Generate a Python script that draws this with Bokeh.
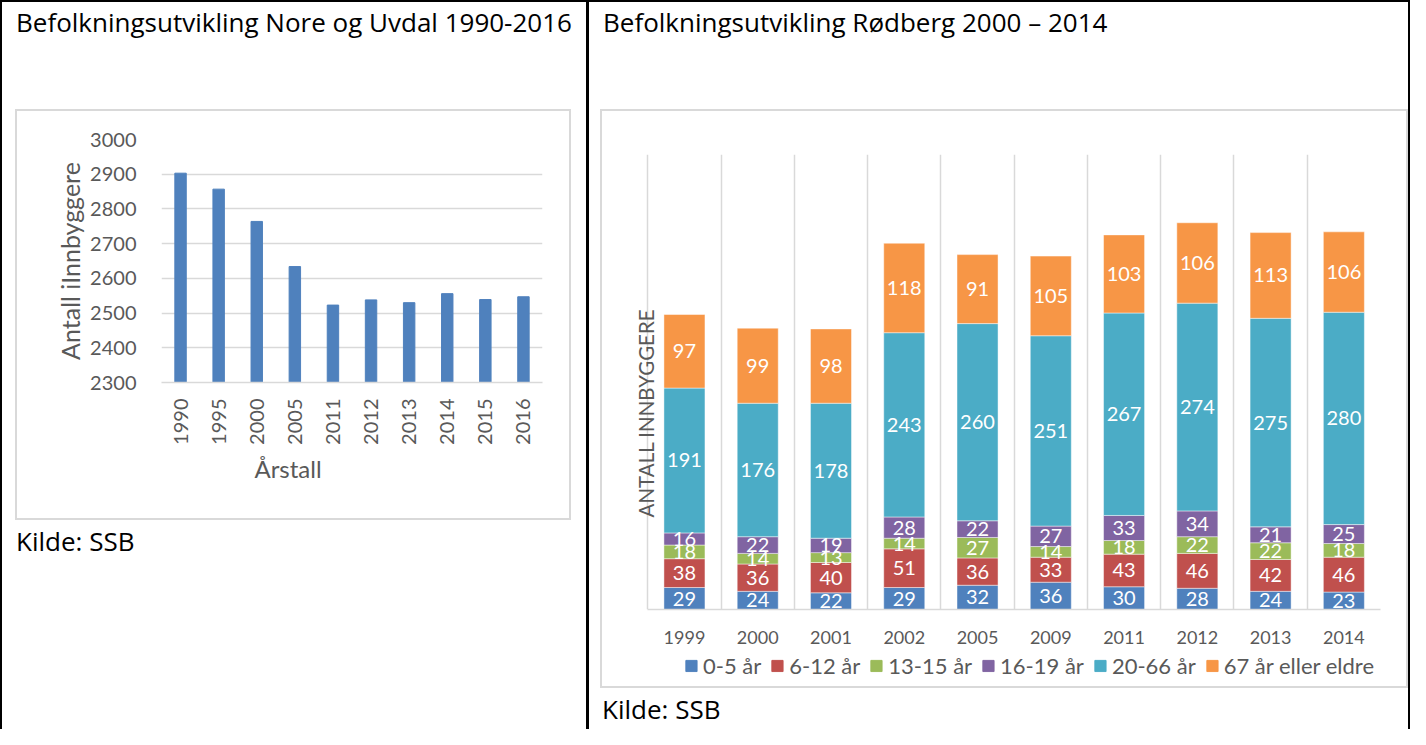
import math
import numpy as np
from bokeh.plotting import figure
from bokeh.models import (ColumnDataSource, FactorRange, Range1d, FixedTicker,
                          Div, Spacer, Label, Legend, Title)
from bokeh.layouts import row, column
from bokeh.core.properties import value
from bokeh.embed import file_html
from bokeh.resources import INLINE

FONT = "Lato"
DOC_FONT = "Open Sans"
GRAY_TXT = "#595959"
GRID = "#d9d9d9"

# ---------------- data ----------------
left_title = "Befolkningsutvikling Nore og Uvdal 1990-2016"
right_title = "Befolkningsutvikling Rødberg 2000 – 2014"
source_text = "Kilde: SSB"

left_years = ["1990", "1995", "2000", "2005", "2011", "2012", "2013", "2014", "2015", "2016"]
left_pop = [2903, 2857, 2764, 2634, 2523, 2538, 2530, 2556, 2539, 2547]
left_yticks = [2300, 2400, 2500, 2600, 2700, 2800, 2900, 3000]
left_ylabel = "Antall iInnbyggere"
left_xlabel = "Årstall"

right_years = ["1999", "2000", "2001", "2002", "2005", "2009", "2011", "2012", "2013", "2014"]
age_groups = ["0-5 år", "6-12 år", "13-15 år", "16-19 år", "20-66 år", "67 år eller eldre"]
age_0_5 = [29, 24, 22, 29, 32, 36, 30, 28, 24, 23]
age_6_12 = [38, 36, 40, 51, 36, 33, 43, 46, 42, 46]
age_13_15 = [18, 14, 13, 14, 27, 14, 18, 22, 22, 18]
age_16_19 = [16, 22, 19, 28, 22, 27, 33, 34, 21, 25]
age_20_66 = [191, 176, 178, 243, 260, 251, 267, 274, 275, 280]
age_67_plus = [97, 99, 98, 118, 91, 105, 103, 106, 113, 106]
group_colors = ["#4F81BD", "#C0504D", "#9BBB59", "#8064A2", "#4BACC6", "#F79646"]
right_ylabel = "ANTALL INNBYGGERE"

# ---------------- left chart ----------------
pl = figure(width=552, height=407, x_range=FactorRange(*left_years),
            y_range=Range1d(2300, 3000), output_backend="svg", toolbar_location=None,
            min_border_left=144, min_border_right=27, min_border_top=28,
            min_border_bottom=136, margin=0)
pl.vbar(x=left_years, top=left_pop, width=0.3, color="#4F81BD")
pl.outline_line_color = None
pl.xgrid.visible = False
pl.ygrid.grid_line_color = GRID
pl.ygrid.grid_line_width = 1.3
pl.yaxis.ticker = FixedTicker(ticks=left_yticks)
for ax in (pl.xaxis[0], pl.yaxis[0]):
    ax.major_tick_line_color = None
    ax.minor_tick_line_color = None
    ax.major_label_text_font = FONT
    ax.major_label_text_font_size = "20px"
    ax.major_label_text_color = GRAY_TXT
    ax.axis_label_text_font = FONT
    ax.axis_label_text_font_style = "normal"
    ax.axis_label_text_color = GRAY_TXT
pl.yaxis.axis_line_color = None
pl.yaxis.major_label_standoff = 19
pl.yaxis.axis_label = left_ylabel
pl.yaxis.axis_label_text_font_size = "25px"
pl.yaxis.axis_label_standoff = 2
pl.xaxis.axis_line_color = GRID
pl.xaxis.axis_line_width = 1.3
pl.xaxis.major_label_orientation = math.pi / 2
pl.xaxis.major_label_standoff = 10
# x-axis title sits left of centre in the original, so it is a bottom title with an offset
pl.add_layout(Title(text=left_xlabel, align="left", offset=93, standoff=8,
                    text_font=FONT, text_font_size="24px", text_font_style="normal",
                    text_color=GRAY_TXT), "below")

# ---------------- right chart ----------------
xs = list(range(1, len(right_years) + 1))
series = [age_0_5, age_6_12, age_13_15, age_16_19, age_20_66, age_67_plus]
data = {"x": xs}
for g, s in zip(age_groups, series):
    data[g] = s
src = ColumnDataSource(data)

pr = figure(width=804, height=538, x_range=Range1d(0.25, len(xs) + 0.5),
            y_range=Range1d(0, 600), output_backend="svg", toolbar_location=None,
            min_border_left=27, min_border_right=26, min_border_top=43,
            min_border_bottom=40, margin=0)
pr.vbar_stack(age_groups, x="x", width=0.56, color=group_colors, source=src,
              line_color="white", line_alpha=0.45, line_width=1)

# segment labels
arr = np.array(series, dtype=float)
tops = np.cumsum(arr, axis=0)
mids = tops - arr / 2.0
lab_x, lab_y, lab_t = [], [], []
for gi in range(arr.shape[0]):
    for xi in range(arr.shape[1]):
        lab_x.append(xs[xi])
        lab_y.append(mids[gi, xi])
        lab_t.append(str(int(arr[gi, xi])))
pr.text(x=lab_x, y=lab_y, text=lab_t, text_font=value(FONT), text_font_size="20px",
        text_color="white", text_align="center", text_baseline="middle")

pr.outline_line_color = None
pr.ygrid.visible = False
pr.yaxis.visible = False
pr.xgrid.ticker = FixedTicker(ticks=[x - 0.5 for x in xs] + [xs[-1] + 0.5])
pr.xgrid.grid_line_color = GRID
pr.xgrid.grid_line_width = 1.5
xa = pr.xaxis[0]
xa.ticker = FixedTicker(ticks=xs)
xa.bounds = (xs[0] - 0.5, xs[-1] + 0.5)
xa.major_label_overrides = {x: y for x, y in zip(xs, right_years)}
xa.major_tick_line_color = None
xa.minor_tick_line_color = None
xa.axis_line_color = GRID
xa.axis_line_width = 1.5
xa.major_label_text_font = FONT
xa.major_label_text_font_size = "18px"
xa.major_label_text_color = GRAY_TXT
xa.major_label_standoff = 15

pr.add_layout(Label(x=0.5, y=259, text=right_ylabel, angle=math.pi / 2,
                    text_align="center", text_baseline="middle", x_offset=-2,
                    text_font=FONT, text_font_size="20.5px", text_color=GRAY_TXT))

# legend in its own strip below the chart (same stacked series, range keeps bars out of view)
lf = figure(width=754, height=32, x_range=Range1d(-1, 0), y_range=Range1d(0, 1),
            output_backend="svg", toolbar_location=None, min_border=0, margin=0)
lf.axis.visible = False
lf.grid.visible = False
lf.outline_line_color = None
leg_renderers = lf.vbar_stack(age_groups, x="x", width=0.56, color=group_colors, source=src)
legend = Legend(items=[(g, [r]) for g, r in zip(age_groups, leg_renderers)],
                orientation="horizontal", location="center",
                label_text_font=FONT, label_text_font_size="22px",
                label_text_color=GRAY_TXT, glyph_width=14, glyph_height=14,
                label_standoff=5, spacing=9, padding=0, margin=0,
                border_line_color=None, background_fill_alpha=0)
lf.add_layout(legend)


# ---------------- page layout ----------------
def line_div(w, h, color):
    return Div(text="", width=w, height=h, margin=0,
               styles={"background-color": color})


def text_div(txt, w, h, pad_top, pad_left):
    html = (f'<div style="font-family:\'{DOC_FONT}\';font-size:26px;line-height:30px;'
            f'color:#000;padding-top:{pad_top}px;padding-left:{pad_left}px;'
            f'white-space:nowrap;">{txt}</div>')
    return Div(text=html, width=w, height=h, margin=0)


left_box = column(line_div(556, 2, GRID),
                  row(line_div(2, 407, GRID), pl, line_div(2, 407, GRID)),
                  line_div(556, 2, GRID))
left_cell = column(text_div(left_title, 584, 107, 5, 14),
                   row(Spacer(width=13, height=411, margin=0), left_box,
                       Spacer(width=15, height=411, margin=0)),
                   text_div(source_text, 584, 209, 6, 14))

right_inner = column(pr,
                     row(Spacer(width=50, height=32, margin=0), lf),
                     Spacer(width=804, height=5, margin=0))
right_box = column(line_div(808, 2, GRID),
                   row(line_div(2, 575, GRID), right_inner, line_div(2, 575, GRID)),
                   line_div(808, 2, GRID))
right_cell = column(text_div(right_title, 819, 107, 5, 14),
                    row(Spacer(width=11, height=579, margin=0), right_box),
                    text_div(source_text, 819, 41, 6, 13))

root = column(line_div(1410, 2, "black"),
              row(line_div(2, 727, "black"), left_cell, line_div(3, 727, "black"),
                  right_cell, line_div(2, 727, "black")))

open("out.html", "w", encoding="utf-8").write(file_html(root, INLINE))
